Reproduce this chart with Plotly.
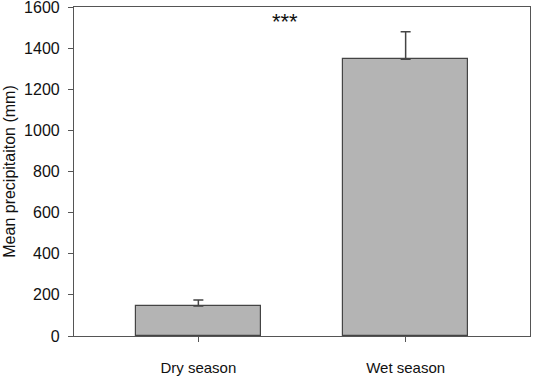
import plotly.graph_objects as go

categories = ["Dry season", "Wet season"]
means = [146, 1346]
errors_up = [29, 134]
y_ticks = [0, 200, 400, 600, 800, 1000, 1200, 1400, 1600]
annotation_text = "***"

font_family = "Liberation Sans, Arial, sans-serif"

fig = go.Figure()
fig.add_trace(go.Bar(
    x=[0, 1],
    y=means,
    width=0.6,
    marker=dict(color="#b4b4b4", line=dict(color="#444444", width=1.2)),
    error_y=dict(type="data", symmetric=False, array=errors_up,
                 arrayminus=[0, 0], color="#444444", thickness=1.5, width=5),
    showlegend=False,
))

fig.add_annotation(x=0.42, y=1530, text=annotation_text, showarrow=False,
                   font=dict(size=22, color="#111111", family=font_family))

fig.update_layout(
    width=533, height=377,
    margin=dict(l=74, r=3, t=7, b=41),
    plot_bgcolor="white", paper_bgcolor="white",
    font=dict(family=font_family, size=15, color="#111111"),
    bargap=0,
)
fig.update_xaxes(
    range=[-0.6, 1.6], tickmode="array", tickvals=[0, 1], ticktext=categories,
    showline=True, linecolor="#555555", linewidth=1.2, mirror=True,
    ticks="outside", ticklen=5, tickcolor="#555555", showgrid=False, zeroline=False,
    ticklabelstandoff=13, automargin=False, tickfont=dict(size=15),
)
fig.update_yaxes(
    range=[0, 1600], tickmode="array", tickvals=y_ticks,
    showline=True, linecolor="#555555", linewidth=1.2, mirror=True,
    ticks="outside", ticklen=5, tickcolor="#555555", showgrid=False, zeroline=False,
    ticklabelstandoff=5, automargin=False, tickfont=dict(size=16),
    ticklabeloverflow="allow",
    title=dict(text="Mean precipitaiton (mm)", font=dict(size=16), standoff=4),
)

fig.write_html(
    "out.html",
    config={"displayModeBar": False},
    post_script="document.body.style.margin='0';document.body.style.padding='0';document.body.style.overflow='hidden';",
)
